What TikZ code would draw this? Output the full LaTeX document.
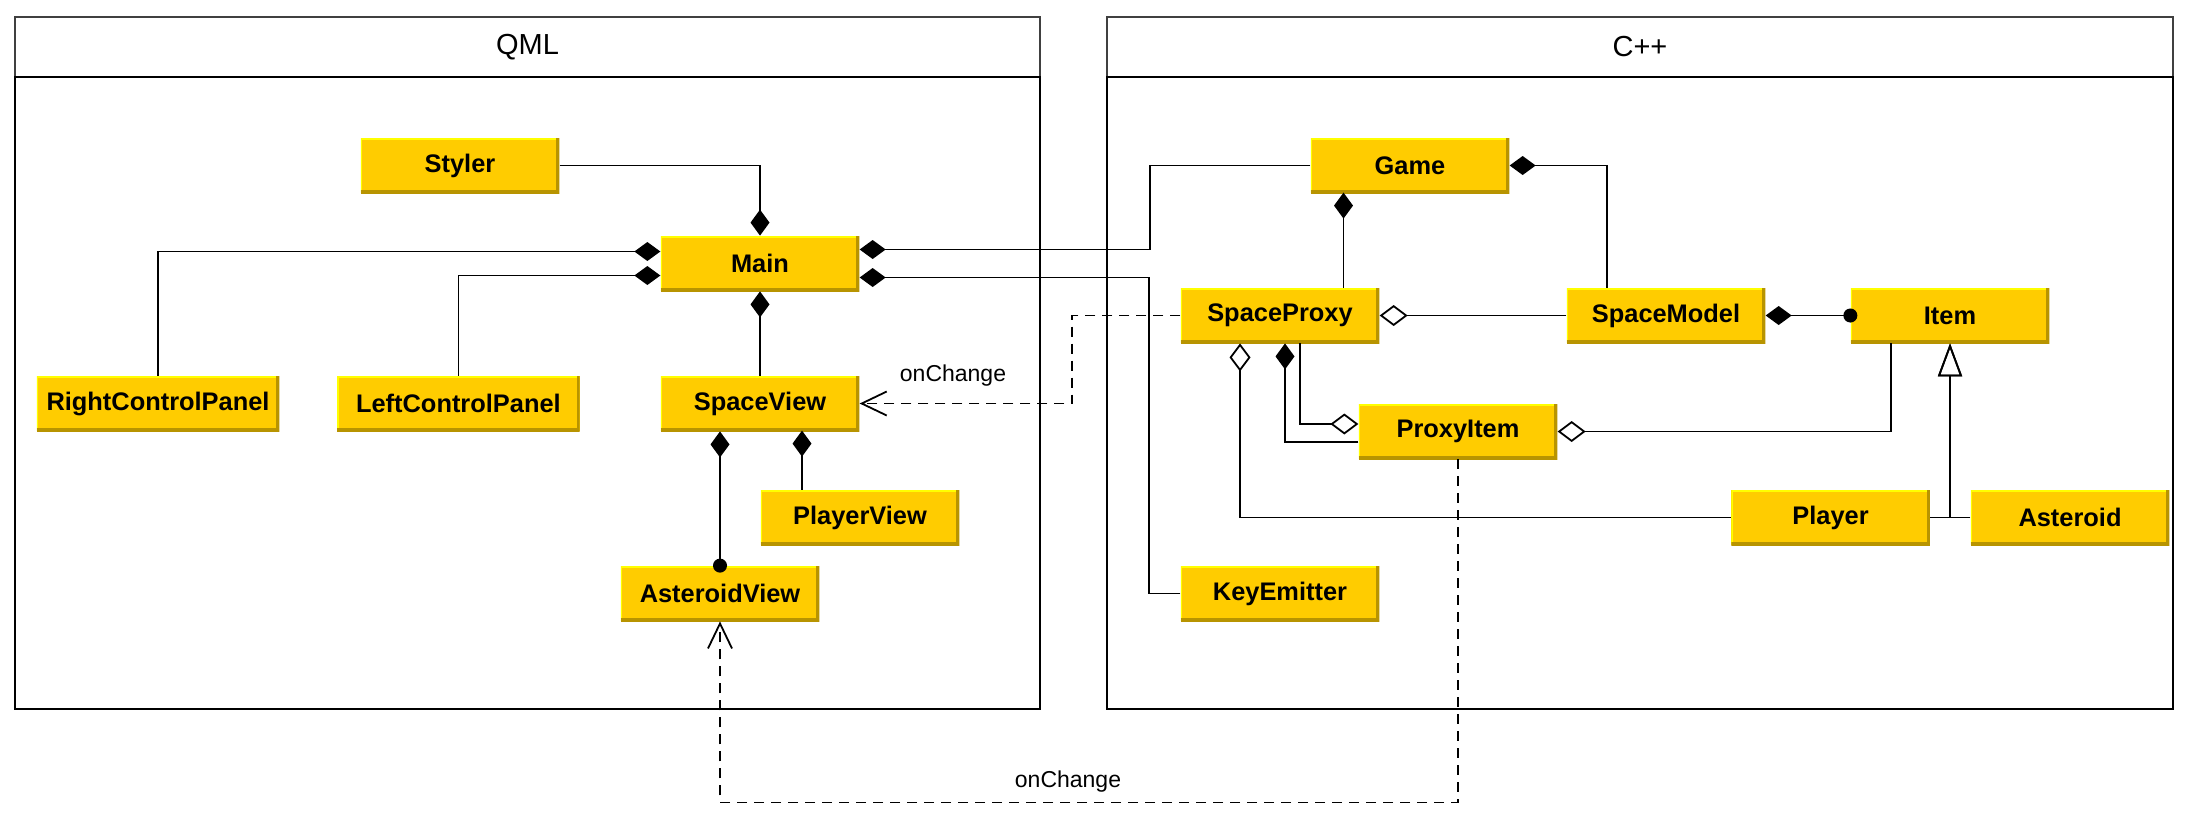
\documentclass[tikz,border=0pt]{standalone}
\usepackage{fontspec}
\setmainfont{Liberation Sans}
\usetikzlibrary{arrows.meta,positioning,calc}
\definecolor{Gold}{HTML}{FFCC00}
\definecolor{GoldLight}{HTML}{FFFF00}
\definecolor{GoldDark}{HTML}{B89400}

\begin{document}
\begin{tikzpicture}[x=.5pt,y=-.5pt,
  cls/.style={fill=Gold,inner sep=0pt,minimum width=99.25pt,minimum height=27.5pt,
    font=\bfseries\fontsize{12.7}{15}\selectfont,
    path picture={\draw[GoldLight,line width=1.6pt] (path picture bounding box.south west) |- (path picture bounding box.north east);
      \draw[GoldDark,line width=3pt] (path picture bounding box.south west) -| (path picture bounding box.north east);}},
  wide/.style={cls,minimum width=121.25pt},
  conn/.style={line width=.9pt},
  comp/.style={conn,-{Diamond[length=13pt,width=9.5pt]}},
  aggr/.style={conn,-{Diamond[open,length=14pt,width=10.5pt]}},
  inh/.style={conn,-{Triangle[open,length=16.5pt,width=12pt]}},
  dep/.style={conn,dash pattern=on 5pt off 3.5pt,-{Straight Barb[length=12.5pt,width=12pt]}},
  lbl/.style={font=\fontsize{11.5}{13}\selectfont},
  title/.style={font=\fontsize{14.5}{17}\selectfont}]
\useasboundingbox (0,0) rectangle (2188,820);

% packages
\draw[line width=1pt,black!75] (15,17) rectangle (1040,77);
\draw[line width=1.4pt] (15,77) rectangle (1040,709);
\node[title] (qml) at (527.5,47) {QML};
\draw[line width=1pt,black!75] (1107,17) rectangle (2173,77);
\draw[line width=1.4pt] (1107,77) rectangle (2173,709);
\node[title] (cpp) at (1640,47) {C++};

% QML side
\node[cls] (Styler) at (460,165.5) {Styler};
\node[cls] (Main) at (760,263.5) {Main};
\node[wide] (RightControlPanel) at (158,403.5) {RightControlPanel};
\node[wide] (LeftControlPanel) at (458.4,403.5) {LeftControlPanel};
\node[cls] (SpaceView) at (760,403.5) {SpaceView};
\node[cls] (PlayerView) at (860,517.5) {PlayerView};
\node[cls] (AsteroidView) at (720,593.5) {AsteroidView};

% C++ side
\node[cls] (Game) at (1410,165.5) {Game};
\node[cls] (SpaceProxy) at (1280,315.5) {SpaceProxy};
\node[cls] (SpaceModel) at (1666,315.5) {SpaceModel};
\node[cls] (Item) at (1950,315.5) {Item};
\node[cls] (ProxyItem) at (1458,431.5) {ProxyItem};
\node[cls] (Player) at (1830.5,517.5) {Player};
\node[cls] (Asteroid) at (2070,517.5) {Asteroid};
\node[cls] (KeyEmitter) at (1280,593.5) {KeyEmitter};

% QML relations
\draw[comp] (Styler.east) -| (Main.north);
\draw[comp] (RightControlPanel.north) |- ($(Main.west)+(0,-12)$);
\draw[comp] (LeftControlPanel.north) |- ($(Main.west)+(0,12)$);
\draw[comp] (SpaceView.north) -- (Main.south);
\draw[conn,{Circle[length=7pt]}-{Diamond[length=13pt,width=9.5pt]},shorten <=-3.5pt] (AsteroidView.north) -- (AsteroidView.north |- SpaceView.south);
\draw[comp] ($(PlayerView.north)+(-58,0)$) -- ++(0,-59);

% across
\draw[comp] (Game.west) -- ++(-160,0) |- ($(Main.east)+(0,-14)$);
\draw[comp] (KeyEmitter.west) -- ++(-31,0) |- ($(Main.east)+(0,14)$);
\draw[dep] (SpaceProxy.west) -- ++(-108,0) |- (SpaceView.east);
\node[lbl] (chgA) at (953,376) {onChange};
\draw[dep] (ProxyItem.south) -- ++(0,343) -| (AsteroidView.south);
\node[lbl] (chgB) at (1068,782) {onChange};

% C++ relations
\draw[comp] ($(SpaceProxy.north)+(63.5,0)$) -- ++(0,-95);
\draw[comp] ($(SpaceModel.north)+(-59,0)$) |- (Game.east);
\draw[aggr] (SpaceModel.west) -- (SpaceProxy.east);
\draw[conn,{Diamond[length=13pt,width=9.5pt]}-{Circle[length=7pt]},shorten >=-3.5pt] (SpaceModel.east) -- (Item.west);
\draw[aggr] (Player.west) -| ($(SpaceProxy.south)+(-40,0)$);
\draw[comp] ($(ProxyItem.west)+(0,10.5)$) -| ($(SpaceProxy.south)+(5,0)$);
\draw[aggr] ($(SpaceProxy.south)+(20,0)$) |- ($(ProxyItem.west)+(0,-7.5)$);
\draw[aggr] ($(Item.south)+(-59,0)$) |- (ProxyItem.east);
\draw[inh] (Player.east) -| (Item.south);
\draw[inh] (Asteroid.west) -| (Item.south);
\end{tikzpicture}
\end{document}
